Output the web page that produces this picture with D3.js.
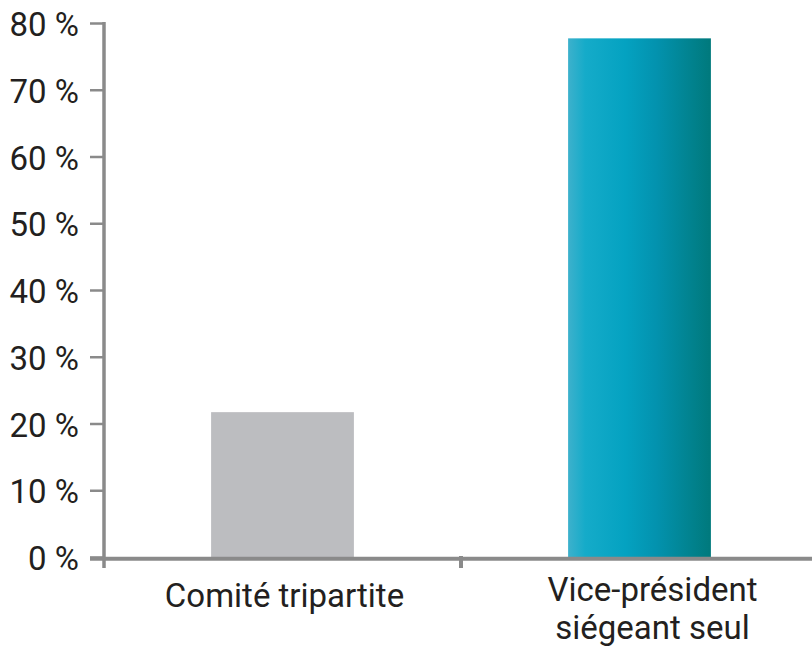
<!DOCTYPE html>
<html>
<head>
<meta charset="utf-8">
<script src="https://cdn.jsdelivr.net/npm/d3@7"></script>
<style>
  html, body { margin: 0; padding: 0; background: #fff; }
  svg { display: block; }
  text { font-family: Roboto, "Noto Sans", sans-serif; fill: #231f20; }
</style>
</head>
<body>
<svg id="chart" width="812" height="646"></svg>
<script>
// Share of cases by decision body (percent)
const categories = ["Comité tripartite", "Vice-président siégeant seul"];
const labelLines = [["Comité tripartite"], ["Vice-président", "siégeant seul"]];
const values = [21.7, 77.7];
const yTicks = [0, 10, 20, 30, 40, 50, 60, 70, 80];

const svg = d3.select("#chart");
const axisColor = "#8a8a8a";
const fontSize = 33;

const x = d3.scaleBand().domain(categories).range([104, 818]).paddingInner(0).paddingOuter(0);
const y = d3.scaleLinear().domain([0, 80]).range([557, 23]);

// Gradient for the highlighted bar
const defs = svg.append("defs");
const grad = defs.append("linearGradient").attr("id", "tealGrad")
  .attr("x1", "0%").attr("x2", "100%").attr("y1", "0%").attr("y2", "0%");
[[0, "#3db1cc"], [0.12, "#15abc9"], [0.4, "#04a2c1"], [0.62, "#0392ae"], [1, "#00797c"]]
  .forEach(([o, c]) => grad.append("stop").attr("offset", o).attr("stop-color", c));

const fills = ["#bcbdc0", "url(#tealGrad)"];

// Bars occupy the middle 40% of each band
svg.append("g").selectAll("rect").data(categories).join("rect")
  .attr("x", d => x(d) + x.bandwidth() * 0.3)
  .attr("width", x.bandwidth() * 0.4)
  .attr("y", (d, i) => y(values[i]))
  .attr("height", (d, i) => y(0) - y(values[i]))
  .attr("fill", (d, i) => fills[i]);

// Y axis
const yAxis = svg.append("g").attr("transform", "translate(104,0)")
  .call(d3.axisLeft(y).tickValues(yTicks).tickSize(14).tickPadding(11)
    .tickFormat(d => d + " %"));
yAxis.select(".domain").remove();
yAxis.selectAll(".tick line").attr("stroke", axisColor).attr("stroke-width", 2.5);
yAxis.selectAll(".tick text")
  .attr("font-size", fontSize).attr("dy", "0.38em")
  .style("font-family", "Roboto, sans-serif").attr("fill", "#231f20");

// Vertical axis line
svg.append("line").attr("x1", 104).attr("x2", 104).attr("y1", y(80) - 1).attr("y2", 568)
  .attr("stroke", axisColor).attr("stroke-width", 3.5);

// X axis baseline
svg.append("line").attr("x1", 90).attr("x2", 812).attr("y1", 558.7).attr("y2", 558.7)
  .attr("stroke", axisColor).attr("stroke-width", 4);

// X category boundary ticks
const bounds = categories.map(c => x(c)).concat([x.range()[1]]);
svg.append("g").selectAll("line").data(bounds.slice(1)).join("line")
  .attr("x1", d => d).attr("x2", d => d).attr("y1", 556).attr("y2", 568)
  .attr("stroke", axisColor).attr("stroke-width", 4);

// Category labels
const labelShift = [2, 13];
const lbl = svg.append("g").selectAll("text").data(categories).join("text")
  .attr("text-anchor", "middle").attr("font-size", fontSize)
  .attr("transform", (d, i) => `translate(${x(d) + x.bandwidth() / 2 + labelShift[i]},0)`);
lbl.each(function(d, i) {
  const t = d3.select(this);
  const lines = labelLines[i];
  const base = lines.length > 1 ? 601 : 607;
  lines.forEach((ln, j) => t.append("tspan").attr("x", 0).attr("y", base + j * 38).text(ln));
});
</script>
</body>
</html>
